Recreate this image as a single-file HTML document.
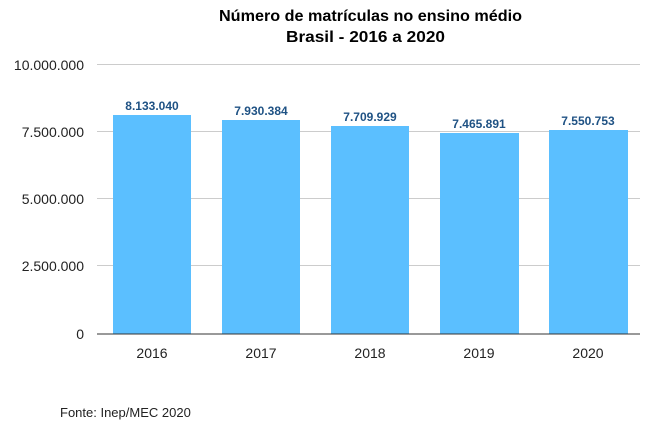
<!DOCTYPE html>
<html><head><meta charset="utf-8"><style>
body{margin:0;background:#fff;width:657px;height:425px;overflow:hidden}
text{font-family:"Liberation Sans",Roboto,sans-serif}
</style></head><body>
<svg width="657" height="425" xmlns="http://www.w3.org/2000/svg">
<text x="219" y="21" font-size="16" font-weight="bold" fill="#000" textLength="303" lengthAdjust="spacingAndGlyphs">Número de matrículas no ensino médio</text>
<text x="286" y="42" font-size="16" font-weight="bold" fill="#000" textLength="159" lengthAdjust="spacingAndGlyphs">Brasil - 2016 a 2020</text>
<g stroke="#cccccc" stroke-width="1">
<line x1="97" x2="640" y1="64.5" y2="64.5"/>
<line x1="97" x2="640" y1="131.5" y2="131.5"/>
<line x1="97" x2="640" y1="198.5" y2="198.5"/>
<line x1="97" x2="640" y1="265.5" y2="265.5"/>
</g>
<g font-size="14" fill="#222" text-anchor="end">
<text x="84" y="70">10.000.000</text>
<text x="84" y="137">7.500.000</text>
<text x="84" y="204">5.000.000</text>
<text x="84" y="271">2.500.000</text>
<text x="84" y="339">0</text>
</g>
<g fill="#5bbfff">
<rect x="113" y="115" width="78" height="219"/>
<rect x="222" y="120" width="78" height="214"/>
<rect x="331" y="126" width="78" height="208"/>
<rect x="440" y="133" width="79" height="201"/>
<rect x="549" y="130" width="79" height="204"/>
</g>
<line x1="97" x2="640" y1="334" y2="334" stroke="#333" stroke-width="1"/>
<g font-size="12" font-weight="bold" fill="#1f5284" text-anchor="middle">
<text x="152" y="110">8.133.040</text>
<text x="261" y="115">7.930.384</text>
<text x="370" y="121">7.709.929</text>
<text x="479" y="128">7.465.891</text>
<text x="588" y="125">7.550.753</text>
</g>
<g font-size="14" fill="#222" text-anchor="middle">
<text x="152" y="358">2016</text>
<text x="261" y="358">2017</text>
<text x="370" y="358">2018</text>
<text x="479" y="358">2019</text>
<text x="588" y="358">2020</text>
</g>
<text x="60" y="417" font-size="13" fill="#222">Fonte: Inep/MEC 2020</text>
</svg>
</body></html>
